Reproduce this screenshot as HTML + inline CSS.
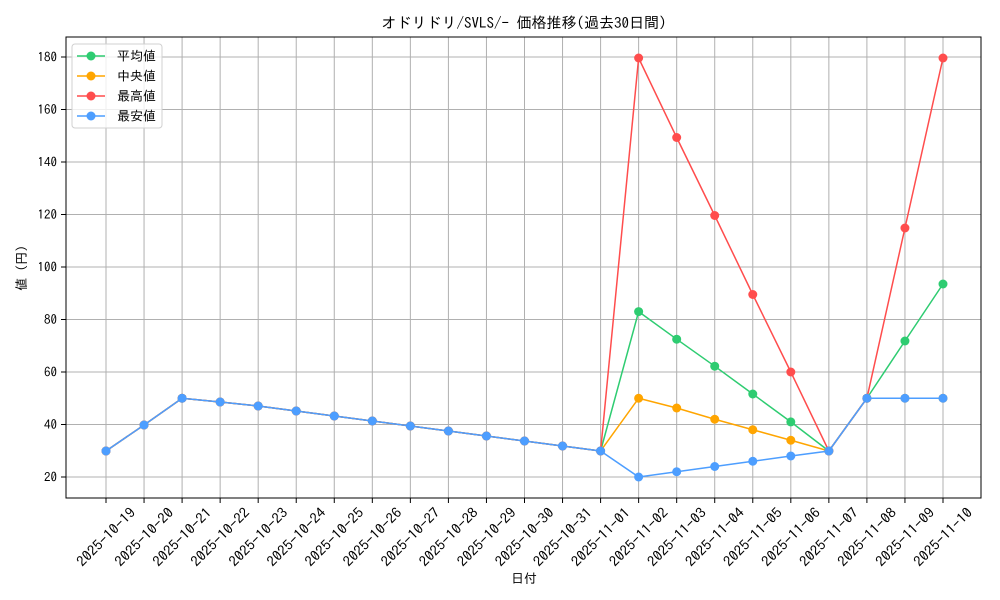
<!DOCTYPE html>
<html><head><meta charset="utf-8"><style>
html,body{margin:0;padding:0;background:#fff}
svg{display:block;font-family:"IPAGothic","Noto Sans CJK JP",sans-serif}
</style></head><body>
<svg width="1000" height="600" viewBox="0 0 1000 600">
<rect width="1000" height="600" fill="#fff"/>
<g stroke="#b0b0b0" stroke-width="1">
<line x1="106" y1="37" x2="106" y2="498"/><line x1="144.05" y1="37" x2="144.05" y2="498"/><line x1="182.09" y1="37" x2="182.09" y2="498"/><line x1="220.14" y1="37" x2="220.14" y2="498"/><line x1="258.18" y1="37" x2="258.18" y2="498"/><line x1="296.23" y1="37" x2="296.23" y2="498"/><line x1="334.27" y1="37" x2="334.27" y2="498"/><line x1="372.32" y1="37" x2="372.32" y2="498"/><line x1="410.36" y1="37" x2="410.36" y2="498"/><line x1="448.41" y1="37" x2="448.41" y2="498"/><line x1="486.45" y1="37" x2="486.45" y2="498"/><line x1="524.5" y1="37" x2="524.5" y2="498"/><line x1="562.54" y1="37" x2="562.54" y2="498"/><line x1="600.59" y1="37" x2="600.59" y2="498"/><line x1="638.63" y1="37" x2="638.63" y2="498"/><line x1="676.68" y1="37" x2="676.68" y2="498"/><line x1="714.72" y1="37" x2="714.72" y2="498"/><line x1="752.77" y1="37" x2="752.77" y2="498"/><line x1="790.81" y1="37" x2="790.81" y2="498"/><line x1="828.86" y1="37" x2="828.86" y2="498"/><line x1="866.9" y1="37" x2="866.9" y2="498"/><line x1="904.95" y1="37" x2="904.95" y2="498"/><line x1="943" y1="37" x2="943" y2="498"/>
<line x1="66" y1="477" x2="981" y2="477"/><line x1="66" y1="424.5" x2="981" y2="424.5"/><line x1="66" y1="372" x2="981" y2="372"/><line x1="66" y1="319.5" x2="981" y2="319.5"/><line x1="66" y1="267" x2="981" y2="267"/><line x1="66" y1="214.5" x2="981" y2="214.5"/><line x1="66" y1="162" x2="981" y2="162"/><line x1="66" y1="109.5" x2="981" y2="109.5"/><line x1="66" y1="57" x2="981" y2="57"/>
</g>
<rect x="66" y="37" width="915" height="461" fill="none" stroke="#000" stroke-width="1"/>
<g stroke="#000">
<line x1="61" y1="477" x2="66" y2="477"/><line x1="61" y1="424.5" x2="66" y2="424.5"/><line x1="61" y1="372" x2="66" y2="372"/><line x1="61" y1="319.5" x2="66" y2="319.5"/><line x1="61" y1="267" x2="66" y2="267"/><line x1="61" y1="214.5" x2="66" y2="214.5"/><line x1="61" y1="162" x2="66" y2="162"/><line x1="61" y1="109.5" x2="66" y2="109.5"/><line x1="61" y1="57" x2="66" y2="57"/>
<line x1="106" y1="498" x2="106" y2="503"/><line x1="144.05" y1="498" x2="144.05" y2="503"/><line x1="182.09" y1="498" x2="182.09" y2="503"/><line x1="220.14" y1="498" x2="220.14" y2="503"/><line x1="258.18" y1="498" x2="258.18" y2="503"/><line x1="296.23" y1="498" x2="296.23" y2="503"/><line x1="334.27" y1="498" x2="334.27" y2="503"/><line x1="372.32" y1="498" x2="372.32" y2="503"/><line x1="410.36" y1="498" x2="410.36" y2="503"/><line x1="448.41" y1="498" x2="448.41" y2="503"/><line x1="486.45" y1="498" x2="486.45" y2="503"/><line x1="524.5" y1="498" x2="524.5" y2="503"/><line x1="562.54" y1="498" x2="562.54" y2="503"/><line x1="600.59" y1="498" x2="600.59" y2="503"/><line x1="638.63" y1="498" x2="638.63" y2="503"/><line x1="676.68" y1="498" x2="676.68" y2="503"/><line x1="714.72" y1="498" x2="714.72" y2="503"/><line x1="752.77" y1="498" x2="752.77" y2="503"/><line x1="790.81" y1="498" x2="790.81" y2="503"/><line x1="828.86" y1="498" x2="828.86" y2="503"/><line x1="866.9" y1="498" x2="866.9" y2="503"/><line x1="904.95" y1="498" x2="904.95" y2="503"/><line x1="943" y1="498" x2="943" y2="503"/>
</g>
<g font-size="13" text-anchor="end" fill="#000">
<text x="57" y="481.5">20</text><text x="57" y="429">40</text><text x="57" y="376.5">60</text><text x="57" y="324">80</text><text x="57" y="271.5">100</text><text x="57" y="219">120</text><text x="57" y="166.5">140</text><text x="57" y="114">160</text><text x="57" y="61.5">180</text>
</g>
<g font-size="14" text-anchor="middle" fill="#000">
<text transform="translate(106,537) rotate(-45)" y="5" textLength="76" lengthAdjust="spacingAndGlyphs">2025-10-19</text>
<text transform="translate(144.05,537) rotate(-45)" y="5" textLength="76" lengthAdjust="spacingAndGlyphs">2025-10-20</text>
<text transform="translate(182.09,537) rotate(-45)" y="5" textLength="76" lengthAdjust="spacingAndGlyphs">2025-10-21</text>
<text transform="translate(220.14,537) rotate(-45)" y="5" textLength="76" lengthAdjust="spacingAndGlyphs">2025-10-22</text>
<text transform="translate(258.18,537) rotate(-45)" y="5" textLength="76" lengthAdjust="spacingAndGlyphs">2025-10-23</text>
<text transform="translate(296.23,537) rotate(-45)" y="5" textLength="76" lengthAdjust="spacingAndGlyphs">2025-10-24</text>
<text transform="translate(334.27,537) rotate(-45)" y="5" textLength="76" lengthAdjust="spacingAndGlyphs">2025-10-25</text>
<text transform="translate(372.32,537) rotate(-45)" y="5" textLength="76" lengthAdjust="spacingAndGlyphs">2025-10-26</text>
<text transform="translate(410.36,537) rotate(-45)" y="5" textLength="76" lengthAdjust="spacingAndGlyphs">2025-10-27</text>
<text transform="translate(448.41,537) rotate(-45)" y="5" textLength="76" lengthAdjust="spacingAndGlyphs">2025-10-28</text>
<text transform="translate(486.45,537) rotate(-45)" y="5" textLength="76" lengthAdjust="spacingAndGlyphs">2025-10-29</text>
<text transform="translate(524.5,537) rotate(-45)" y="5" textLength="76" lengthAdjust="spacingAndGlyphs">2025-10-30</text>
<text transform="translate(562.54,537) rotate(-45)" y="5" textLength="76" lengthAdjust="spacingAndGlyphs">2025-10-31</text>
<text transform="translate(600.59,537) rotate(-45)" y="5" textLength="76" lengthAdjust="spacingAndGlyphs">2025-11-01</text>
<text transform="translate(638.63,537) rotate(-45)" y="5" textLength="76" lengthAdjust="spacingAndGlyphs">2025-11-02</text>
<text transform="translate(676.68,537) rotate(-45)" y="5" textLength="76" lengthAdjust="spacingAndGlyphs">2025-11-03</text>
<text transform="translate(714.72,537) rotate(-45)" y="5" textLength="76" lengthAdjust="spacingAndGlyphs">2025-11-04</text>
<text transform="translate(752.77,537) rotate(-45)" y="5" textLength="76" lengthAdjust="spacingAndGlyphs">2025-11-05</text>
<text transform="translate(790.81,537) rotate(-45)" y="5" textLength="76" lengthAdjust="spacingAndGlyphs">2025-11-06</text>
<text transform="translate(828.86,537) rotate(-45)" y="5" textLength="76" lengthAdjust="spacingAndGlyphs">2025-11-07</text>
<text transform="translate(866.9,537) rotate(-45)" y="5" textLength="76" lengthAdjust="spacingAndGlyphs">2025-11-08</text>
<text transform="translate(904.95,537) rotate(-45)" y="5" textLength="76" lengthAdjust="spacingAndGlyphs">2025-11-09</text>
<text transform="translate(943,537) rotate(-45)" y="5" textLength="76" lengthAdjust="spacingAndGlyphs">2025-11-10</text>
</g>
<text x="524" y="583" font-size="13" text-anchor="middle">日付</text>
<text transform="translate(26,268) rotate(-90)" font-size="13" text-anchor="middle">値 (円)</text>
<text x="524" y="28" font-size="15" text-anchor="middle">オドリドリ/SVLS/- 価格推移(過去30日間)</text>
<defs>
<marker id="mg" markerWidth="10" markerHeight="10" refX="5" refY="5" markerUnits="userSpaceOnUse"><circle cx="5" cy="5" r="4.5" fill="#2ecc71"/></marker>
<marker id="mo" markerWidth="10" markerHeight="10" refX="5" refY="5" markerUnits="userSpaceOnUse"><circle cx="5" cy="5" r="4.5" fill="#ffa500"/></marker>
<marker id="mr" markerWidth="10" markerHeight="10" refX="5" refY="5" markerUnits="userSpaceOnUse"><circle cx="5" cy="5" r="4.5" fill="#ff4d4d"/></marker>
<marker id="mb" markerWidth="10" markerHeight="10" refX="5" refY="5" markerUnits="userSpaceOnUse"><circle cx="5" cy="5" r="4.5" fill="#4d9eff"/></marker>
</defs>
<g fill="none" stroke-width="1.5">
<polyline stroke="#2ecc71" marker-start="url(#mg)" marker-mid="url(#mg)" marker-end="url(#mg)" points="106,451 144.05,425 182.09,398.25 220.14,402 258.18,406 296.23,411 334.27,416 372.32,421 410.36,426 448.41,431 486.45,436 524.5,441 562.54,446 600.59,451 638.63,311.6 676.68,339.2 714.72,366.2 752.77,394 790.81,421.9 828.86,451 866.9,398.25 904.95,341 943,284"/>
<polyline stroke="#ffa500" marker-start="url(#mo)" marker-mid="url(#mo)" marker-end="url(#mo)" points="106,451 144.05,425 182.09,398.25 220.14,402 258.18,406 296.23,411 334.27,416 372.32,421 410.36,426 448.41,431 486.45,436 524.5,441 562.54,446 600.59,451 638.63,398.25 676.68,408 714.72,419.25 752.77,429.75 790.81,440.25 828.86,451 866.9,398.25 904.95,398.25 943,398.25"/>
<polyline stroke="#ff4d4d" marker-start="url(#mr)" marker-mid="url(#mr)" marker-end="url(#mr)" points="106,451 144.05,425 182.09,398.25 220.14,402 258.18,406 296.23,411 334.27,416 372.32,421 410.36,426 448.41,431 486.45,436 524.5,441 562.54,446 600.59,451 638.63,58 676.68,137.5 714.72,215.5 752.77,294.5 790.81,372 828.86,451 866.9,398.25 904.95,228 943,58"/>
<polyline stroke="#4d9eff" marker-start="url(#mb)" marker-mid="url(#mb)" marker-end="url(#mb)" points="106,451 144.05,425 182.09,398.25 220.14,402 258.18,406 296.23,411 334.27,416 372.32,421 410.36,426 448.41,431 486.45,436 524.5,441 562.54,446 600.59,451 638.63,477 676.68,471.75 714.72,466.5 752.77,461.25 790.81,456 828.86,451 866.9,398.25 904.95,398.25 943,398.25"/>
</g>
<rect x="72" y="44" width="90" height="84" rx="3" fill="#fff" fill-opacity="0.8" stroke="#d0d0d0"/>
<g stroke-width="1.5">
<line x1="77" y1="56" x2="105" y2="56" stroke="#2ecc71"/><circle cx="91" cy="56" r="4.5" fill="#2ecc71"/>
<line x1="77" y1="76" x2="105" y2="76" stroke="#ffa500"/><circle cx="91" cy="76" r="4.5" fill="#ffa500"/>
<line x1="77" y1="96" x2="105" y2="96" stroke="#ff4d4d"/><circle cx="91" cy="96" r="4.5" fill="#ff4d4d"/>
<line x1="77" y1="116" x2="105" y2="116" stroke="#4d9eff"/><circle cx="91" cy="116" r="4.5" fill="#4d9eff"/>
</g>
<g font-size="13">
<text x="117" y="60.5">平均値</text><text x="117" y="80.5">中央値</text><text x="117" y="100.5">最高値</text><text x="117" y="120.5">最安値</text>
</g>
</svg>
</body></html>
